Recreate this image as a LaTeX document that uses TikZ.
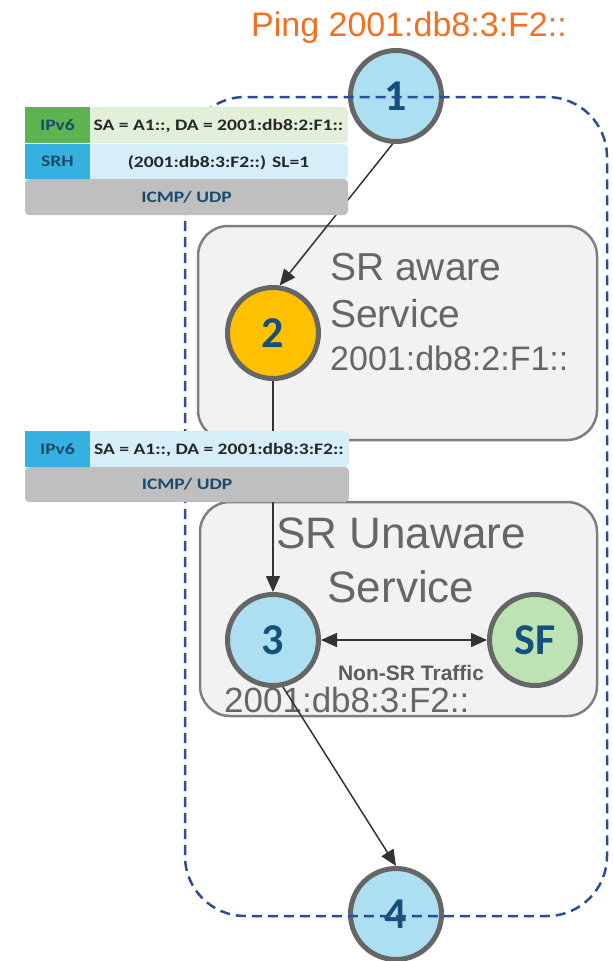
\documentclass[tikz,border=0pt]{standalone}
\usepackage{fontspec}
\setmainfont{Liberation Sans}
\newfontfamily\hdrfont{Carlito}
\usetikzlibrary{arrows.meta}
\definecolor{ipgreen}{HTML}{5CB34F}
\definecolor{ipgreenl}{HTML}{E2F0D9}
\definecolor{srhblue}{HTML}{35B0E0}
\definecolor{srhbluel}{HTML}{D6EEF8}
\definecolor{hgray}{HTML}{BFBFBF}
\definecolor{hlabel}{HTML}{1B4B6B}
\definecolor{htext}{HTML}{262626}
\definecolor{cblue}{HTML}{ACDFF2}
\definecolor{corange}{HTML}{FFC000}
\definecolor{cgreen}{HTML}{BDE3B5}
\definecolor{numcol}{HTML}{15507A}
\definecolor{ringcol}{HTML}{666666}
\definecolor{boxfill}{HTML}{F2F2F2}
\definecolor{boxdraw}{HTML}{7F7F7F}
\definecolor{boxtext}{HTML}{666666}
\definecolor{pingor}{HTML}{F36F21}
\definecolor{dashblue}{HTML}{2B4C9A}
\definecolor{conn}{HTML}{333333}
\newcommand{\hdr}[1]{\scalebox{1.22}[1]{\hdrfont\bfseries\fontsize{16}{18}\selectfont #1}}
\tikzset{
  ring/.style={circle, draw=ringcol, line width=5pt, minimum size=91pt, inner sep=0pt,
    font=\hdrfont\bfseries\fontsize{44}{44}\selectfont, text=numcol},
  svcbox/.style={draw=boxdraw, fill=boxfill, line width=2.5pt, rounded corners=30pt, inner sep=0pt},
  hrow/.style={rounded corners=4pt, inner sep=0pt, minimum height=36pt},
  hcell/.style={inner sep=0pt, minimum height=36pt, minimum width=65pt, text=hlabel},
  conline/.style={draw=conn, line width=1.5pt},
  tip/.style={-{Triangle[length=16pt,width=14pt]}},
  btext/.style={text=boxtext, inner sep=0pt, anchor=base west},
}
\begin{document}
\begin{tikzpicture}[x=1pt,y=-1pt]
\useasboundingbox (0,0) rectangle (613,961);
% service boxes
\node[svcbox, minimum width=399pt, minimum height=214pt] (awarebox) at (397.5,333) {};
\node[svcbox, minimum width=397pt, minimum height=214pt] (unawarebox) at (398.5,609) {};
\node[btext, font=\fontsize{39}{39}\selectfont] (awareA) at (330,280) {SR aware};
\node[btext, font=\fontsize{39}{39}\selectfont] (awareB) at (330,327) {Service};
\node[btext, font=\fontsize{34}{34}\selectfont] (awareC) at (330,370) {2001:db8:2:F1::};
\node[text=boxtext, inner sep=0pt, anchor=base, font=\fontsize{44}{44}\selectfont] (unA) at (401,548) {SR Unaware};
\node[text=boxtext, inner sep=0pt, anchor=base, font=\fontsize{44}{44}\selectfont] (unB) at (401,602) {Service};
% title
\node[text=pingor, inner sep=0pt, anchor=base, font=\fontsize{34}{34}\selectfont] (title) at (409,36) {Ping 2001:db8:3:F2::};
% circles
\node[ring, fill=cblue] (n1) at (396,96) {1};
\node[ring, fill=corange] (n2) at (273,333) {2};
\node[ring, fill=cblue] (n3) at (273,640) {3};
\node[ring, fill=cgreen] (sf) at (535,640) {SF};
\node[ring, fill=cblue] (n4) at (396,914) {4};
\node[btext, font=\fontsize{35}{35}\selectfont] (unC) at (224,712) {2001:db8:3:F2::};
% connectors
\draw[conline, tip] (n1.266) -- (n2.82);
\draw[conline, tip] (n2.south) -- (n3.north);
\draw[conline, tip] (n3.282) -- (n4.north);
\draw[conline, {Triangle[length=16pt,width=14pt]}-{Triangle[length=16pt,width=14pt]}] (n3.east) -- (sf.west);
\node[text=boxtext!90!black, inner sep=0pt, anchor=base, font=\bfseries\fontsize{21}{21}\selectfont] (nonsr) at (411,680) {Non-SR Traffic};
% dashed domain
\draw[dashblue, line width=2.5pt, dash pattern=on 10pt off 6pt, rounded corners=60pt] (185,97) rectangle (607,916);
% header 1
\node[hrow, fill=ipgreenl, minimum width=323pt] (h1a) at (186.5,125) {};
\node[hcell, fill=ipgreen] (h1al) at (57.5,125) {\hdr{IPv6}};
\node[text=htext, inner sep=0pt] (h1at) at (218.5,126) {\hdr{SA = A1::, DA = 2001:db8:2:F1::}};
\node[hrow, fill=srhbluel, minimum width=323pt, minimum height=35pt] (h1b) at (186.5,161.5) {};
\node[hcell, fill=srhblue, minimum height=35pt] (h1bl) at (57.5,161.5) {\hdr{SRH}};
\node[text=htext, inner sep=0pt] (h1bt) at (218.5,162.5) {\hdr{(2001:db8:3:F2::) SL=1}};
\node[hrow, fill=hgray, minimum width=323pt] (h1c) at (186.5,197) {};
\node[text=hlabel, inner sep=0pt] (h1ct) at (h1c) {\hdr{ICMP/ UDP}};
% header 2
\node[hrow, fill=srhbluel, minimum width=324pt] (h2a) at (187,449) {};
\node[hcell, fill=srhblue] (h2al) at (57.5,449) {\hdr{IPv6}};
\node[text=htext, inner sep=0pt] (h2at) at (219,450) {\hdr{SA = A1::, DA = 2001:db8:3:F2::}};
\node[hrow, fill=hgray, minimum width=324pt, minimum height=35pt] (h2b) at (187,484.5) {};
\node[text=hlabel, inner sep=0pt] (h2bt) at (h2b) {\hdr{ICMP/ UDP}};
\end{tikzpicture}
\end{document}
